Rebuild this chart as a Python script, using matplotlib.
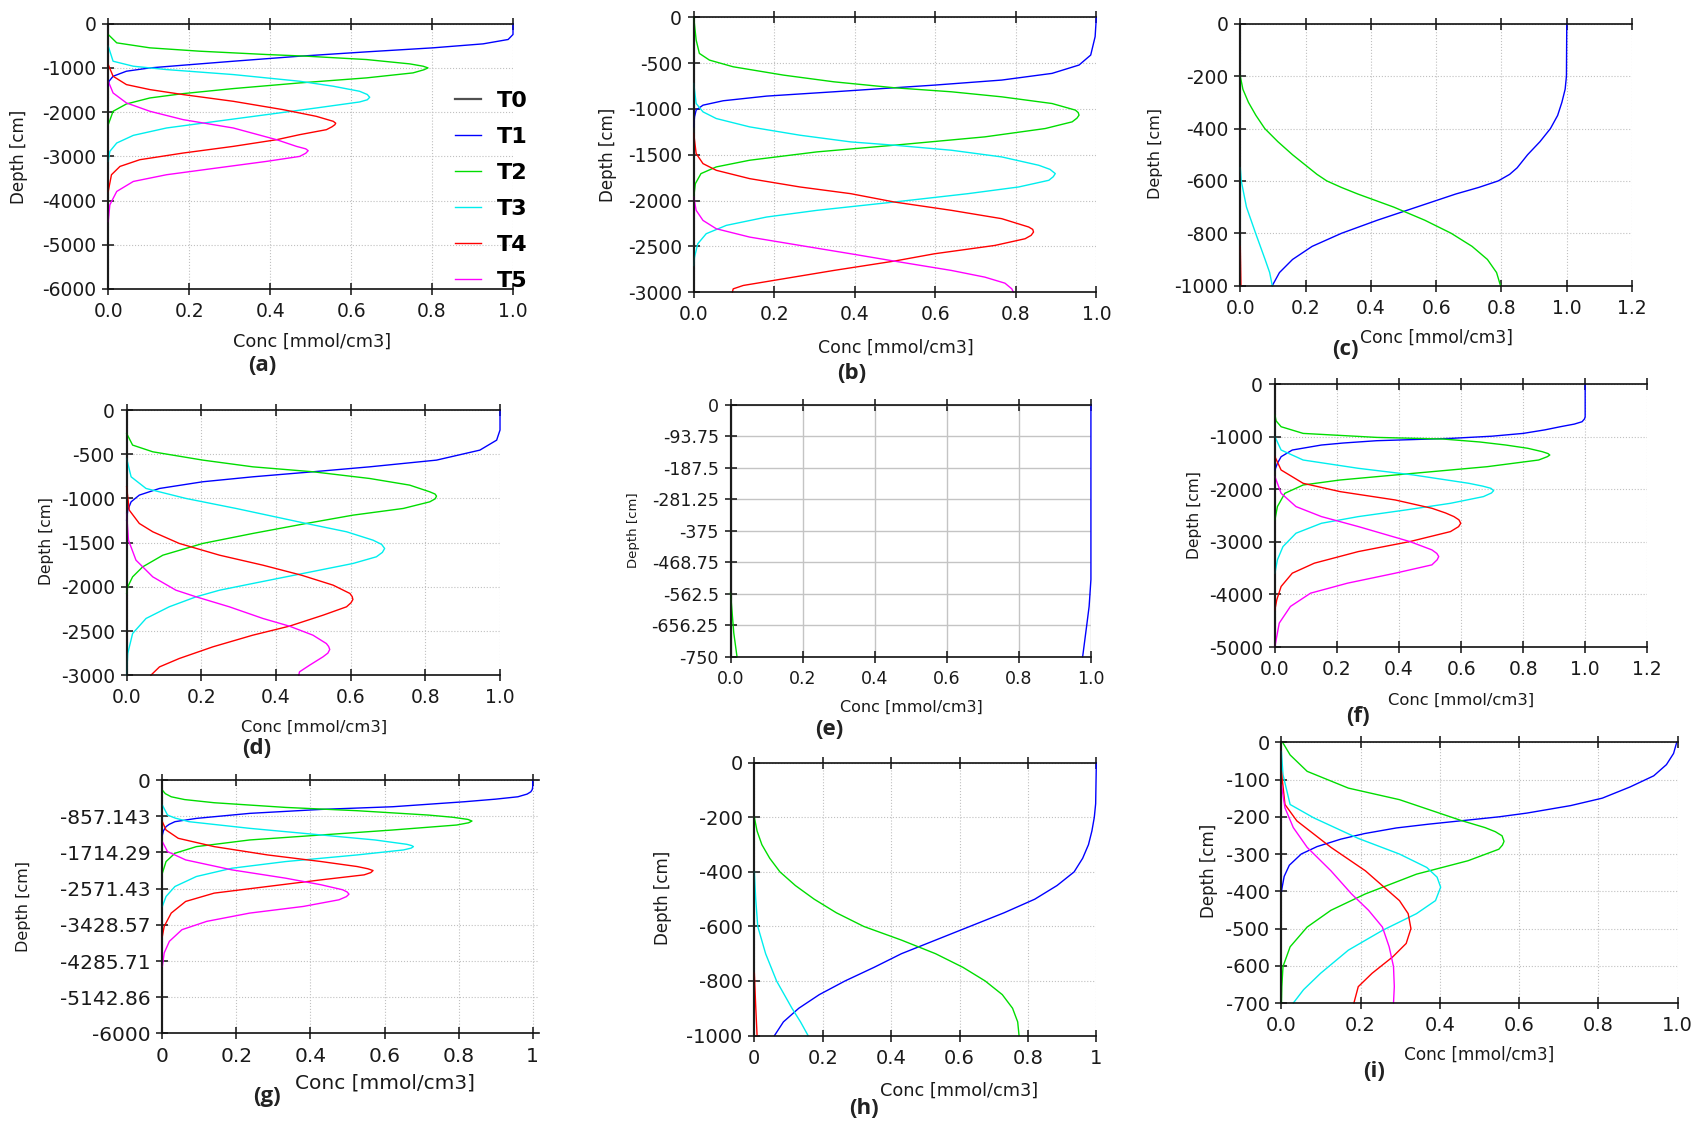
import matplotlib
matplotlib.use("Agg")
import matplotlib.pyplot as plt
from matplotlib.ticker import FixedLocator

plt.rcParams['font.family'] = ['DejaVu Sans']

# ---------------- concentration profiles: depth [cm], conc [mmol/cm3] ----------------
# (a)
a1_z = [0, -242, -355, -454, -544, -635, -733, -847, -937, -998, -1073, -1187, -1300, -1413]
a1_c = [1.0, 1.0, 0.988, 0.926, 0.802, 0.638, 0.473, 0.309, 0.185, 0.103, 0.045, 0.012, 0.002, 0.0]
a2_z = [-242, -431, -544, -620, -695, -733, -809, -907, -960, -998, -1040, -1111, -1224, -1338, -1466, -1580, -1678, -1814, -1980, -2283]
a2_c = [0.0, 0.021, 0.103, 0.226, 0.391, 0.49, 0.638, 0.745, 0.778, 0.79, 0.78, 0.753, 0.638, 0.473, 0.309, 0.185, 0.103, 0.045, 0.012, 0.0]
a3_z = [-506, -847, -960, -1036, -1149, -1300, -1413, -1527, -1600, -1663, -1720, -1769, -1905, -2056, -2207, -2358, -2525, -2698, -2887, -3114]
a3_c = [0.0, 0.012, 0.062, 0.144, 0.309, 0.473, 0.556, 0.621, 0.64, 0.646, 0.64, 0.621, 0.514, 0.391, 0.267, 0.144, 0.062, 0.021, 0.004, 0.0]
a4_z = [-922, -1187, -1376, -1489, -1602, -1754, -1943, -2094, -2207, -2250, -2283, -2330, -2396, -2509, -2623, -2774, -2925, -3076, -3228, -3416, -3794]
a4_c = [0.0, 0.012, 0.045, 0.103, 0.185, 0.309, 0.432, 0.514, 0.556, 0.562, 0.56, 0.553, 0.539, 0.473, 0.416, 0.309, 0.185, 0.078, 0.029, 0.008, 0.0]
a5_z = [-1300, -1565, -1791, -1980, -2169, -2358, -2623, -2774, -2830, -2872, -2930, -3001, -3114, -3265, -3416, -3568, -3794, -4097, -4475]
a5_c = [0.0, 0.012, 0.045, 0.103, 0.185, 0.309, 0.416, 0.465, 0.488, 0.494, 0.488, 0.473, 0.391, 0.267, 0.144, 0.062, 0.021, 0.004, 0.0]

# (b)
b1_z = [0, -211, -412, -521, -612, -685, -740, -769, -813, -860, -911, -959, -1013, -1086, -1196]
b1_c = [1.0, 0.997, 0.986, 0.957, 0.89, 0.765, 0.598, 0.498, 0.348, 0.181, 0.073, 0.023, 0.006, 0.002, 0.0]
b2_z = [0, -248, -394, -467, -540, -631, -704, -769, -813, -868, -941, -1013, -1040, -1068, -1100, -1141, -1214, -1305, -1396, -1469, -1560, -1633, -1706, -1816, -1961]
b2_c = [0.0, 0.006, 0.014, 0.039, 0.098, 0.223, 0.348, 0.498, 0.64, 0.765, 0.89, 0.948, 0.955, 0.957, 0.952, 0.94, 0.873, 0.723, 0.498, 0.306, 0.139, 0.056, 0.018, 0.004, 0.0]
b3_z = [-722, -941, -1032, -1105, -1196, -1287, -1360, -1396, -1451, -1524, -1615, -1660, -1706, -1740, -1779, -1852, -1925, -2016, -2107, -2180, -2271, -2362, -2472, -2618, -2709]
b3_c = [0.0, 0.006, 0.023, 0.056, 0.139, 0.264, 0.39, 0.498, 0.64, 0.765, 0.857, 0.885, 0.898, 0.893, 0.882, 0.807, 0.681, 0.498, 0.306, 0.181, 0.081, 0.031, 0.01, 0.002, 0.0]
b4_z = [-1269, -1487, -1597, -1670, -1761, -1852, -1925, -2016, -2107, -2198, -2289, -2315, -2344, -2380, -2417, -2490, -2581, -2661, -2763, -2854, -2927, -2964, -3000]
b4_c = [0.0, 0.006, 0.023, 0.056, 0.139, 0.264, 0.39, 0.498, 0.64, 0.765, 0.832, 0.842, 0.844, 0.838, 0.823, 0.748, 0.598, 0.498, 0.348, 0.223, 0.123, 0.098, 0.096]
b5_z = [-1961, -2107, -2217, -2308, -2399, -2490, -2581, -2661, -2763, -2836, -2902, -2964, -3000]
b5_c = [0.0, 0.006, 0.023, 0.056, 0.139, 0.264, 0.39, 0.498, 0.64, 0.723, 0.773, 0.79, 0.794]

# (c)
c1_z = [0, -200, -250, -300, -350, -400, -450, -500, -550, -575, -600, -625, -650, -700, -750, -800, -850, -900, -950, -1000]
c1_c = [1.0, 0.999, 0.995, 0.985, 0.972, 0.95, 0.918, 0.88, 0.848, 0.825, 0.79, 0.73, 0.66, 0.54, 0.42, 0.31, 0.22, 0.16, 0.12, 0.098]
c2_z = [-200, -250, -300, -350, -400, -450, -500, -550, -575, -600, -625, -650, -675, -700, -750, -800, -850, -900, -950, -1000]
c2_c = [0.0, 0.008, 0.025, 0.048, 0.075, 0.115, 0.16, 0.21, 0.235, 0.265, 0.31, 0.36, 0.415, 0.47, 0.565, 0.646, 0.71, 0.757, 0.785, 0.797]
c3_z = [-550, -600, -700, -800, -900, -950, -1000]
c3_c = [0.0, 0.003, 0.019, 0.047, 0.076, 0.09, 0.098]
c4_z = [-850, -1000]
c4_c = [0.0, 0.002]

# (d)
d1_z = [0, -226, -340, -453, -566, -642, -698, -755, -811, -887, -962, -1038, -1132, -1245]
d1_c = [1.0, 1.0, 0.991, 0.946, 0.83, 0.651, 0.499, 0.338, 0.204, 0.088, 0.034, 0.012, 0.003, 0.0]
d2_z = [-264, -396, -472, -566, -642, -698, -774, -849, -925, -950, -974, -1005, -1038, -1113, -1189, -1283, -1396, -1509, -1642, -1774, -1887, -2000, -2075]
d2_c = [0.0, 0.016, 0.07, 0.204, 0.338, 0.499, 0.651, 0.758, 0.812, 0.826, 0.83, 0.826, 0.812, 0.741, 0.606, 0.481, 0.338, 0.204, 0.097, 0.043, 0.016, 0.003, 0.0]
d3_z = [-547, -755, -887, -1000, -1113, -1283, -1377, -1472, -1520, -1566, -1610, -1660, -1736, -1849, -1962, -2038, -2113, -2226, -2358, -2528, -2755, -3000]
d3_c = [0.0, 0.012, 0.052, 0.159, 0.293, 0.481, 0.589, 0.66, 0.683, 0.691, 0.685, 0.669, 0.606, 0.472, 0.338, 0.249, 0.186, 0.114, 0.052, 0.016, 0.003, 0.0]
d4_z = [-868, -1132, -1283, -1377, -1509, -1642, -1755, -1868, -1981, -2075, -2110, -2143, -2180, -2226, -2321, -2445, -2547, -2679, -2811, -2906, -3000]
d4_c = [0.0, 0.007, 0.034, 0.07, 0.141, 0.249, 0.365, 0.468, 0.553, 0.598, 0.604, 0.606, 0.601, 0.589, 0.526, 0.436, 0.338, 0.231, 0.141, 0.088, 0.065]
d5_z = [-1170, -1472, -1698, -1887, -2038, -2113, -2226, -2358, -2445, -2547, -2642, -2675, -2709, -2750, -2792, -2887, -2962, -3000]
d5_c = [0.0, 0.005, 0.025, 0.07, 0.132, 0.186, 0.275, 0.365, 0.436, 0.499, 0.535, 0.541, 0.544, 0.539, 0.526, 0.49, 0.463, 0.461]

# (e)
e1_z = [0, -520, -600, -659, -750]
e1_c = [1.0, 1.0, 0.995, 0.988, 0.977]
e2_z = [-560, -679, -750]
e2_c = [0.0, 0.009, 0.018]

# (f)
f1_z = [0, -620, -660, -715, -760, -810, -870, -937, -990, -1032, -1076, -1120, -1158, -1253, -1380, -1506, -1633]
f1_c = [1.0, 1.0, 0.998, 0.99, 0.965, 0.92, 0.87, 0.80, 0.70, 0.566, 0.328, 0.22, 0.15, 0.056, 0.02, 0.008, 0.0]
f2_z = [-589, -700, -810, -937, -1013, -1044, -1100, -1158, -1220, -1285, -1320, -1348, -1380, -1443, -1570, -1696, -1823, -1918, -2076, -2329, -2582]
f2_c = [0.0, 0.004, 0.02, 0.091, 0.328, 0.542, 0.66, 0.744, 0.815, 0.862, 0.88, 0.886, 0.878, 0.85, 0.684, 0.447, 0.21, 0.091, 0.032, 0.008, 0.0]
f3_z = [-1000, -1253, -1443, -1601, -1728, -1886, -1940, -1981, -2025, -2070, -2139, -2266, -2392, -2519, -2646, -2835, -3089, -3342, -3595]
f3_c = [0.0, 0.02, 0.091, 0.269, 0.447, 0.625, 0.67, 0.696, 0.705, 0.698, 0.672, 0.566, 0.423, 0.269, 0.15, 0.068, 0.026, 0.008, 0.0]
f4_z = [-1380, -1633, -1886, -2044, -2203, -2361, -2450, -2519, -2580, -2646, -2710, -2804, -2994, -3184, -3405, -3595, -3848, -4101, -4291]
f4_c = [0.0, 0.02, 0.091, 0.21, 0.388, 0.506, 0.55, 0.577, 0.593, 0.599, 0.592, 0.566, 0.435, 0.269, 0.127, 0.056, 0.02, 0.006, 0.0]
f5_z = [-1759, -2076, -2329, -2519, -2709, -2994, -3152, -3220, -3279, -3340, -3437, -3595, -3785, -3975, -4228, -4544, -4987]
f5_c = [0.0, 0.02, 0.068, 0.15, 0.269, 0.435, 0.506, 0.522, 0.528, 0.523, 0.506, 0.388, 0.234, 0.115, 0.05, 0.014, 0.0]

# (g)
g1_z = [0, -157, -220, -276, -330, -394, -450, -512, -630, -693, -787, -906, -984, -1050, -1102, -1200, -1299]
g1_c = [1.0, 1.0, 0.999, 0.995, 0.985, 0.96, 0.9, 0.815, 0.622, 0.429, 0.236, 0.092, 0.034, 0.018, 0.01, 0.003, 0.0]
g2_z = [-236, -320, -394, -460, -535, -646, -724, -827, -880, -930, -969, -1010, -1063, -1181, -1299, -1417, -1575, -1732, -1929, -2205]
g2_c = [0.0, 0.008, 0.024, 0.06, 0.14, 0.333, 0.526, 0.718, 0.785, 0.825, 0.836, 0.827, 0.795, 0.622, 0.429, 0.236, 0.092, 0.034, 0.01, 0.0]
g3_z = [-591, -827, -900, -984, -1142, -1299, -1417, -1520, -1550, -1575, -1610, -1654, -1772, -1929, -2087, -2283, -2520, -2756, -2992]
g3_c = [0.0, 0.014, 0.035, 0.072, 0.236, 0.429, 0.574, 0.66, 0.673, 0.678, 0.672, 0.651, 0.526, 0.333, 0.188, 0.092, 0.034, 0.01, 0.0]
g4_z = [-984, -1181, -1378, -1575, -1772, -1929, -2047, -2100, -2142, -2190, -2244, -2362, -2520, -2677, -2874, -3150, -3465, -3701]
g4_c = [0.0, 0.01, 0.043, 0.14, 0.284, 0.429, 0.526, 0.555, 0.569, 0.563, 0.545, 0.429, 0.284, 0.14, 0.063, 0.024, 0.005, 0.0]
g5_z = [-1457, -1693, -1890, -2126, -2323, -2480, -2598, -2650, -2701, -2760, -2835, -2992, -3150, -3346, -3543, -3819, -4094, -4409]
g5_c = [0.0, 0.014, 0.063, 0.188, 0.333, 0.429, 0.487, 0.499, 0.504, 0.497, 0.477, 0.381, 0.236, 0.12, 0.053, 0.019, 0.005, 0.0]

# (h)
h1_z = [0, -150, -200, -250, -300, -350, -400, -450, -500, -550, -600, -650, -700, -750, -800, -850, -900, -950, -1000]
h1_c = [1.0, 0.998, 0.994, 0.987, 0.977, 0.96, 0.935, 0.885, 0.82, 0.73, 0.63, 0.53, 0.43, 0.35, 0.265, 0.19, 0.13, 0.085, 0.059]
h2_z = [-200, -250, -300, -350, -400, -450, -500, -550, -600, -650, -700, -750, -800, -850, -900, -950, -1000]
h2_c = [0.0, 0.008, 0.022, 0.045, 0.075, 0.12, 0.175, 0.24, 0.32, 0.43, 0.53, 0.61, 0.675, 0.725, 0.755, 0.77, 0.774]
h3_z = [-400, -500, -600, -700, -800, -900, -950, -1000]
h3_c = [0.0, 0.004, 0.01, 0.033, 0.065, 0.11, 0.135, 0.157]
h4_z = [-771, -893, -1000]
h4_c = [0.0, 0.004, 0.008]

# (i)
i1_z = [0, -30, -60, -90, -120, -150, -170, -190, -200, -210, -220, -230, -245, -260, -280, -300, -330, -360, -400]
i1_c = [0.998, 0.99, 0.972, 0.94, 0.88, 0.81, 0.73, 0.62, 0.55, 0.46, 0.37, 0.29, 0.21, 0.15, 0.09, 0.05, 0.02, 0.007, 0.0]
i2_z = [0, -34, -78, -123, -154, -210, -229, -240, -251, -266, -276, -287, -318, -354, -407, -451, -496, -549, -602, -656, -700]
i2_c = [0.003, 0.022, 0.065, 0.169, 0.298, 0.454, 0.514, 0.54, 0.557, 0.562, 0.558, 0.549, 0.471, 0.341, 0.212, 0.125, 0.065, 0.022, 0.004, 0.001, 0.0]
i3_z = [-25, -87, -167, -203, -258, -300, -336, -362, -389, -425, -460, -505, -558, -620, -664, -700]
i3_c = [0.0, 0.004, 0.022, 0.082, 0.194, 0.298, 0.367, 0.393, 0.402, 0.389, 0.341, 0.255, 0.169, 0.099, 0.056, 0.03]
i4_z = [-78, -167, -211, -282, -345, -425, -460, -500, -540, -576, -620, -656, -700]
i4_c = [0.0, 0.009, 0.039, 0.125, 0.212, 0.298, 0.32, 0.327, 0.315, 0.281, 0.229, 0.194, 0.183]
i5_z = [-114, -176, -229, -282, -345, -407, -451, -496, -549, -602, -656, -700]
i5_c = [0.0, 0.009, 0.03, 0.065, 0.125, 0.177, 0.22, 0.255, 0.272, 0.283, 0.285, 0.283]

# ---------------- axis ticks ----------------
ticks_x10 = [0.0, 0.2, 0.4, 0.6, 0.8, 1.0]
ticks_x12 = [0.0, 0.2, 0.4, 0.6, 0.8, 1.0, 1.2]
labels_x10 = ['0.0', '0.2', '0.4', '0.6', '0.8', '1.0']
labels_x12 = ['0.0', '0.2', '0.4', '0.6', '0.8', '1.0', '1.2']
labels_x1 = ['0', '0.2', '0.4', '0.6', '0.8', '1']
e_yticks = [0, -93.75, -187.5, -281.25, -375, -468.75, -562.5, -656.25, -750]
e_ylabels = ['0', '-93.75', '-187.5', '-281.25', '-375', '-468.75', '-562.5', '-656.25', '-750']
g_yticks = [0, -857.143, -1714.29, -2571.43, -3428.57, -4285.71, -5142.86, -6000]
g_ylabels = ['0', '-857.143', '-1714.29', '-2571.43', '-3428.57', '-4285.71', '-5142.86', '-6000']

SERIES = ['T0', 'T1', 'T2', 'T3', 'T4', 'T5']
COLORS = {'T0': '#505050', 'T1': '#0000ff', 'T2': '#00dd00', 'T3': '#00eeee',
          'T4': '#ff0000', 'T5': '#ff00ff'}

W, H = 1568.0, 1036.0   # layout grid
fig = plt.figure(figsize=(16.97, 11.21), dpi=100)
fig.patch.set_facecolor('white')


def fx(x):
    return x / W


def fy(y):
    return 1.0 - y / H


def panel(box, xmax, zmin, xticks, xlabels, yticks, ylabels, curves,
          tick_fs, xlab_fs, ylab_fs, xlab_xy, ylab_xy, tag, tag_xy, solid_grid=False):
    x0, y0, x1, y1 = box
    ax = fig.add_axes([fx(x0), fy(y1), (x1 - x0) / W, (y1 - y0) / H])
    ax.set_facecolor('none')
    handles = []
    h0, = ax.plot([0, 0], [0, zmin], color=COLORS['T0'], lw=1.6, clip_on=False, label='T0')
    handles.append(h0)
    for name, z, c in curves:
        h, = ax.plot(c, z, color=COLORS[name], lw=1.0, clip_on=False, label=name)
        handles.append(h)
    ax.set_xlim(0, xmax)
    ax.set_ylim(zmin, 0)
    ax.xaxis.set_major_locator(FixedLocator(xticks))
    ax.set_xticklabels(xlabels)
    ax.yaxis.set_major_locator(FixedLocator(yticks))
    ax.set_yticklabels(ylabels)
    ax.spines['right'].set_visible(False)
    for s in ('left', 'bottom', 'top'):
        ax.spines[s].set_linewidth(1.2)
        ax.spines[s].set_color('#111111')
    ax.tick_params(axis='both', direction='inout', length=9, width=1.1,
                   colors='#111111', labelcolor='#1a1a1a', labelsize=tick_fs)
    ax.tick_params(axis='x', top=True, pad=5)
    ax.tick_params(axis='y', right=False, pad=4)
    if solid_grid:
        ax.grid(True, color='#c4c4c4', lw=1.0, ls='-')
    else:
        ax.grid(True, color='#c0c0c0', lw=0.8, ls=':')
    ax.set_axisbelow(True)
    ax.set_xlabel('Conc [mmol/cm3]', fontsize=xlab_fs, color='#1a1a1a', va='center')
    ax.xaxis.set_label_coords(fx(xlab_xy[0]), fy(xlab_xy[1]), transform=fig.transFigure)
    ax.set_ylabel('Depth [cm]', fontsize=ylab_fs, color='#1a1a1a', va='center')
    ax.yaxis.set_label_coords(fx(ylab_xy[0]), fy(ylab_xy[1]), transform=fig.transFigure)
    fig.text(fx(tag_xy[0]), fy(tag_xy[1]), tag, family=['Open Sans', 'DejaVu Sans'],
             fontweight='bold', fontsize=16, color='#222222', ha='center', va='center')
    return ax, handles


ax_a, leg_handles = panel((100, 22, 474, 267), 1.0, -6000, ticks_x10, labels_x10,
                          list(range(0, -6001, -1000)), [str(v) for v in range(0, -6001, -1000)],
                          [('T1', a1_z, a1_c), ('T2', a2_z, a2_c), ('T3', a3_z, a3_c),
                           ('T4', a4_z, a4_c), ('T5', a5_z, a5_c)],
                          13.5, 12.8, 12, (288, 316), (18, 145), '(a)', (242, 338))

panel((641, 16, 1013, 270), 1.0, -3000, ticks_x10, labels_x10,
      list(range(0, -3001, -500)), [str(v) for v in range(0, -3001, -500)],
      [('T1', b1_z, b1_c), ('T2', b2_z, b2_c), ('T3', b3_z, b3_c),
       ('T4', b4_z, b4_c), ('T5', b5_z, b5_c)],
      13.5, 12.5, 12, (828, 321), (562, 143), '(b)', (787, 345))

panel((1146, 22, 1508, 264), 1.2, -1000, ticks_x12, labels_x12,
      list(range(0, -1001, -200)), [str(v) for v in range(0, -1001, -200)],
      [('T1', c1_z, c1_c), ('T2', c2_z, c2_c), ('T3', c3_z, c3_c), ('T4', c4_z, c4_c)],
      13.5, 12.3, 11.5, (1327, 312), (1068, 142), '(c)', (1243, 323))

panel((117, 379, 462, 624), 1.0, -3000, ticks_x10, labels_x10,
      list(range(0, -3001, -500)), [str(v) for v in range(0, -3001, -500)],
      [('T1', d1_z, d1_c), ('T2', d2_z, d2_c), ('T3', d3_z, d3_c),
       ('T4', d4_z, d4_c), ('T5', d5_z, d5_c)],
      13.5, 11.8, 11.2, (290, 672), (43, 500), '(d)', (237, 692))

panel((675, 374, 1008, 607), 1.0, -750, ticks_x10, labels_x10,
      e_yticks, e_ylabels,
      [('T1', e1_z, e1_c), ('T2', e2_z, e2_c)],
      12.5, 11.5, 9.5, (842, 654), (585, 490), '(e)', (766, 674), solid_grid=True)

panel((1178, 355, 1522, 598), 1.2, -5000, ticks_x12, labels_x12,
      list(range(0, -5001, -1000)), [str(v) for v in range(0, -5001, -1000)],
      [('T1', f1_z, f1_c), ('T2', f2_z, f2_c), ('T3', f3_z, f3_c),
       ('T4', f4_z, f4_c), ('T5', f5_z, f5_c)],
      13.5, 11.8, 11.2, (1350, 647), (1104, 476), '(f)', (1255, 662))

panel((150, 721, 498, 955), 1.017, -6000, ticks_x10, labels_x1,
      g_yticks, g_ylabels,
      [('T1', g1_z, g1_c), ('T2', g2_z, g2_c), ('T3', g3_z, g3_c),
       ('T4', g4_z, g4_c), ('T5', g5_z, g5_c)],
      14.5, 14.5, 11.5, (356, 1001), (22, 838), '(g)', (247, 1013))

panel((697, 705, 1013, 957), 1.0, -1000, ticks_x10, labels_x1,
      list(range(0, -1001, -200)), [str(v) for v in range(0, -1001, -200)],
      [('T1', h1_z, h1_c), ('T2', h2_z, h2_c), ('T3', h3_z, h3_c), ('T4', h4_z, h4_c)],
      14, 12.8, 12, (886, 1008), (613, 830), '(h)', (798, 1024))

panel((1184, 686, 1550, 927), 1.0, -700, ticks_x10, labels_x10,
      list(range(0, -701, -100)), [str(v) for v in range(0, -701, -100)],
      [('T1', i1_z, i1_c), ('T2', i2_z, i2_c), ('T3', i3_z, i3_c),
       ('T4', i4_z, i4_c), ('T5', i5_z, i5_c)],
      14, 12.2, 12, (1367, 975), (1117, 805), '(i)', (1270, 990))

# series key placed at the right edge of panel (a)
ax_a.legend(handles=leg_handles, labels=SERIES, loc='upper left',
            bbox_to_anchor=(fx(420), fy(84)), bbox_transform=fig.transFigure,
            frameon=False, prop=dict(weight='bold', size=16),
            handlelength=1.2, handletextpad=0.7, labelspacing=0.72,
            borderpad=0, borderaxespad=0)

fig.savefig('out.png', dpi=100, facecolor='white')
